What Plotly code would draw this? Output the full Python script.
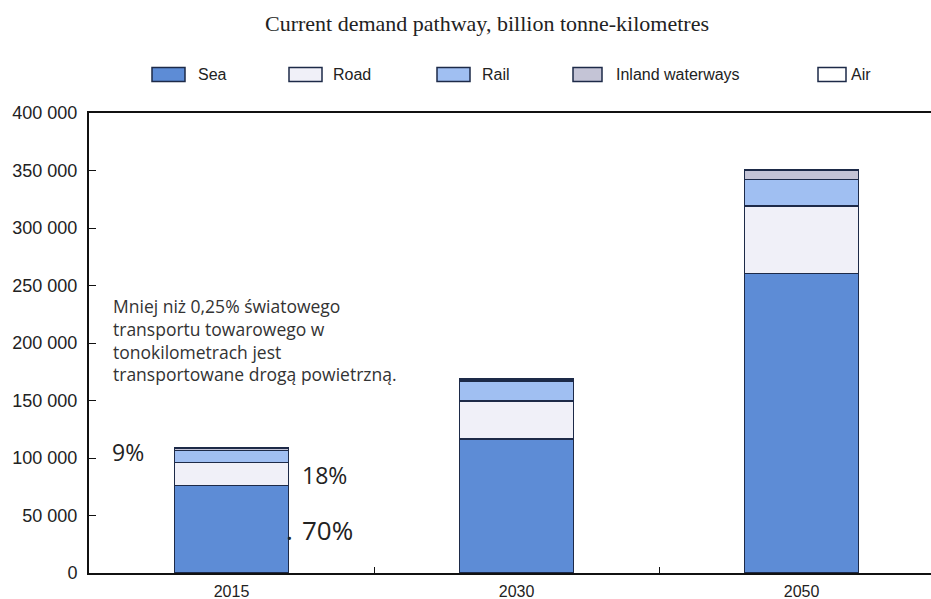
import plotly.graph_objects as go

# ---- data ----
years = ["2015", "2030", "2050"]
modes = ["Sea", "Road", "Rail", "Inland waterways", "Air"]
sea = [76000, 116400, 260300]
road = [20000, 33300, 58700]
rail = [10500, 17300, 23200]
inland = [1800, 1300, 7600]
air = [270, 400, 1100]
series = [sea, road, rail, inland, air]
colors = ["#5d8cd6", "#f0f0f8", "#a0bff2", "#c4c4d6", "#ffffff"]
title_text = "Current demand pathway, billion tonne-kilometres"
note_text = ("Mniej niż 0,25% światowego<br>transportu towarowego w<br>"
             "tonokilometrach jest<br>transportowane drogą powietrzną.")
pct_labels = ["9%", "18%", "70%"]

W, H = 931, 599
L, R, T, B = 89, 931, 112.5, 573
OUT = "#1d2a48"


def px(x):
    return (x - L) / (R - L)


def py(y):
    return (B - y) / (B - T)


fig = go.Figure()
for name, vals, col in zip(modes, series, colors):
    fig.add_trace(go.Bar(
        x=years, y=vals, name=name, width=0.4,
        marker=dict(color=col, line=dict(color=OUT, width=1.5)),
        showlegend=False,
    ))

shapes = []
annos = []
# manual legend
leg = [(152, 185, 196), (289, 322, 331), (437, 470, 480), (573, 602, 614), (818, 846, 849)]
for (x0, x1, tx), name, col in zip(leg, modes, colors):
    shapes.append(dict(type="rect", xref="paper", yref="paper",
                       x0=px(x0), x1=px(x1), y0=py(81), y1=py(67),
                       fillcolor=col, line=dict(color=OUT, width=1.5)))
    annos.append(dict(xref="paper", yref="paper", x=px(tx), y=py(74),
                      text=name, showarrow=False, xanchor="left", yanchor="middle",
                      font=dict(family="Liberation Sans", size=16, color="#222")))

annos.append(dict(xref="paper", yref="paper", x=px(487), y=py(23), text=title_text,
                  showarrow=False, xanchor="center", yanchor="middle",
                  font=dict(family="Liberation Serif", size=22, color="#222")))
annos.append(dict(xref="paper", yref="paper", x=px(111), y=py(292), text=note_text,
                  showarrow=False, xanchor="left", yanchor="top", align="left",
                  font=dict(family="Open Sans", size=17.5, color="#333")))
annos.append(dict(xref="paper", yref="paper", x=px(110), y=py(452), text=pct_labels[0],
                  showarrow=False, xanchor="left", yanchor="middle",
                  font=dict(family="Open Sans", size=23, color="#222")))
annos.append(dict(xref="paper", yref="paper", x=px(300), y=py(475), text=pct_labels[1],
                  showarrow=False, xanchor="left", yanchor="middle",
                  font=dict(family="Open Sans", size=23, color="#222")))
annos.append(dict(xref="paper", yref="paper", x=px(300), y=py(530), text=pct_labels[2],
                  showarrow=False, xanchor="left", yanchor="middle",
                  font=dict(family="Open Sans", size=26, color="#222")))
annos.append(dict(xref="paper", yref="paper", x=px(284), y=py(530), text=".",
                  showarrow=False, xanchor="left", yanchor="middle",
                  font=dict(family="Open Sans", size=26, color="#222")))

fig.update_layout(
    barmode="stack",
    width=W, height=H,
    margin=dict(l=L, r=W - R, t=T, b=H - B),
    paper_bgcolor="white", plot_bgcolor="white",
    shapes=shapes, annotations=annos,
    xaxis=dict(type="category", range=[-0.5, 2.454], showline=True, linecolor="#111",
               linewidth=2, mirror=True, ticks="inside", tickson="boundaries",
               ticklen=6, tickcolor="#111", showgrid=False, ticklabelstandoff=3,
               tickfont=dict(family="Liberation Sans", size=16, color="#222")),
    yaxis=dict(range=[0, 400000], tickvals=list(range(0, 400001, 50000)),
               ticktext=["0"] + [f"{v // 1000} 000" for v in range(50000, 400001, 50000)],
               showline=True, linecolor="#111", linewidth=2, ticks="inside",
               ticklen=7, tickcolor="#111", showgrid=False, zeroline=False,
               ticklabelstandoff=6,
               tickfont=dict(family="Liberation Sans", size=18, color="#222")),
)
fig.write_html("out.html", config={"displayModeBar": False},
               post_script="document.body.style.margin='0';document.body.style.overflow='hidden';")
